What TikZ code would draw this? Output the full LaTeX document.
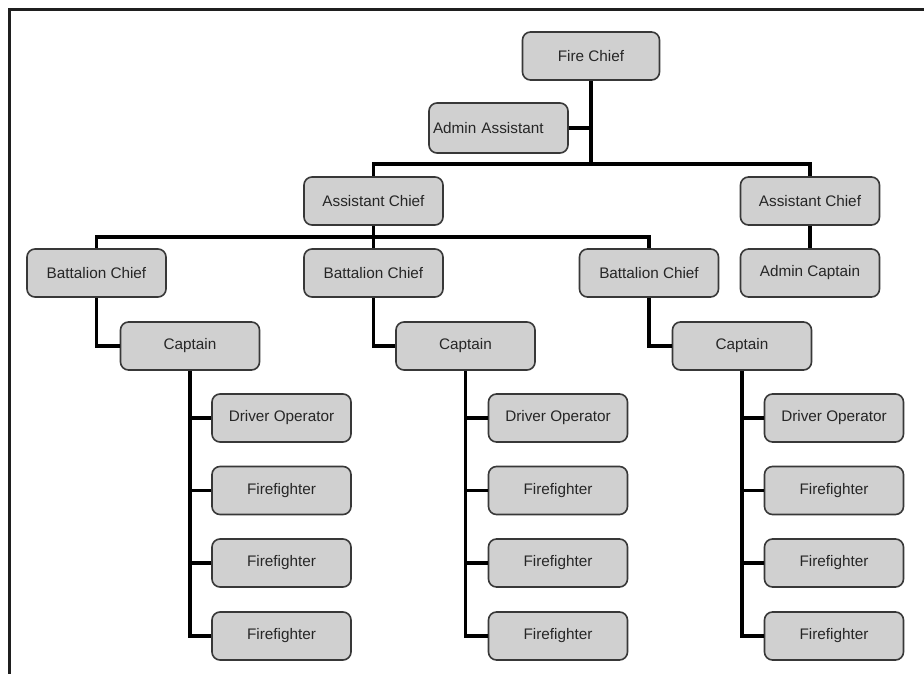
\documentclass[tikz,border=0pt]{standalone}
\usepackage{fontspec}
\setmainfont{Liberation Sans}
\definecolor{boxfill}{HTML}{D0D0D0}
\definecolor{boxline}{HTML}{383838}
\definecolor{txt}{HTML}{262626}
\begin{document}
\begin{tikzpicture}[x=1pt,y=-1pt,
  role/.style={draw=boxline,fill=boxfill,line width=1.6pt,rounded corners=8pt,
    minimum width=139pt,minimum height=48pt,inner sep=0pt,text=txt,
    font=\fontsize{15.3}{18}\selectfont},
  conn/.style={line width=3.2pt,black}]
\useasboundingbox (0,0) rectangle (924,674);
\fill[white] (0,0) rectangle (924,674);
% frame (open on right and bottom)
\draw[line width=3pt,color=black!88] (9.5,674) -- (9.5,9.5) -- (924,9.5);
% nodes
\node[role,minimum width=137pt] (fc) at (591,56) {Fire Chief};
\node[role,minimum height=50pt,text width=131pt,align=left] (aa) at (498.5,128) {Admin Assistant};
\node[role] (ac1) at (373.5,201) {Assistant Chief};
\node[role] (ac2) at (810,201) {Assistant Chief};
\node[role] (acap) at (810,273) {Admin Captain};
\node[role] (bc1) at (96.5,273) {Battalion Chief};
\node[role] (bc2) at (373.5,273) {Battalion Chief};
\node[role] (bc3) at (649,273) {Battalion Chief};
\node[role] (cap1) at (190,346) {Captain};
\node[role] (cap2) at (465.5,346) {Captain};
\node[role] (cap3) at (742,346) {Captain};
\foreach \i/\x in {1/281.5,2/558,3/834}{
  \node[role] (do\i) at (\x,418) {Driver Operator};
  \node[role] (fa\i) at (\x,490.5) {Firefighter};
  \node[role] (fb\i) at (\x,563) {Firefighter};
  \node[role] (fd\i) at (\x,636) {Firefighter};
}
\coordinate (j1) at (591,164);
\coordinate (j2) at (373.5,237);
% connectors
\draw[conn] (fc.south) -- (j1);
\draw[conn] (aa.east) -- (aa.east -| fc.south);
\draw[conn] (ac1.north) -- (ac1.north |- j1) -- (ac2.north |- j1) -- (ac2.north);
\draw[conn] (ac2.south) -- (acap.north);
\draw[conn] (ac1.south) -- (bc2.north);
\draw[conn] (bc1.north) -- (bc1.north |- j2) -- (bc3.north |- j2) -- (bc3.north);
\foreach \i in {1,2,3}{
  \draw[conn] (bc\i.south) |- (cap\i.west);
  \draw[conn] (cap\i.south) -- (cap\i.south |- fd\i.west) -- (fd\i.west);
  \draw[conn] (do\i.west) -- (do\i.west -| cap\i.south);
  \draw[conn] (fa\i.west) -- (fa\i.west -| cap\i.south);
  \draw[conn] (fb\i.west) -- (fb\i.west -| cap\i.south);
}
\end{tikzpicture}
\end{document}
